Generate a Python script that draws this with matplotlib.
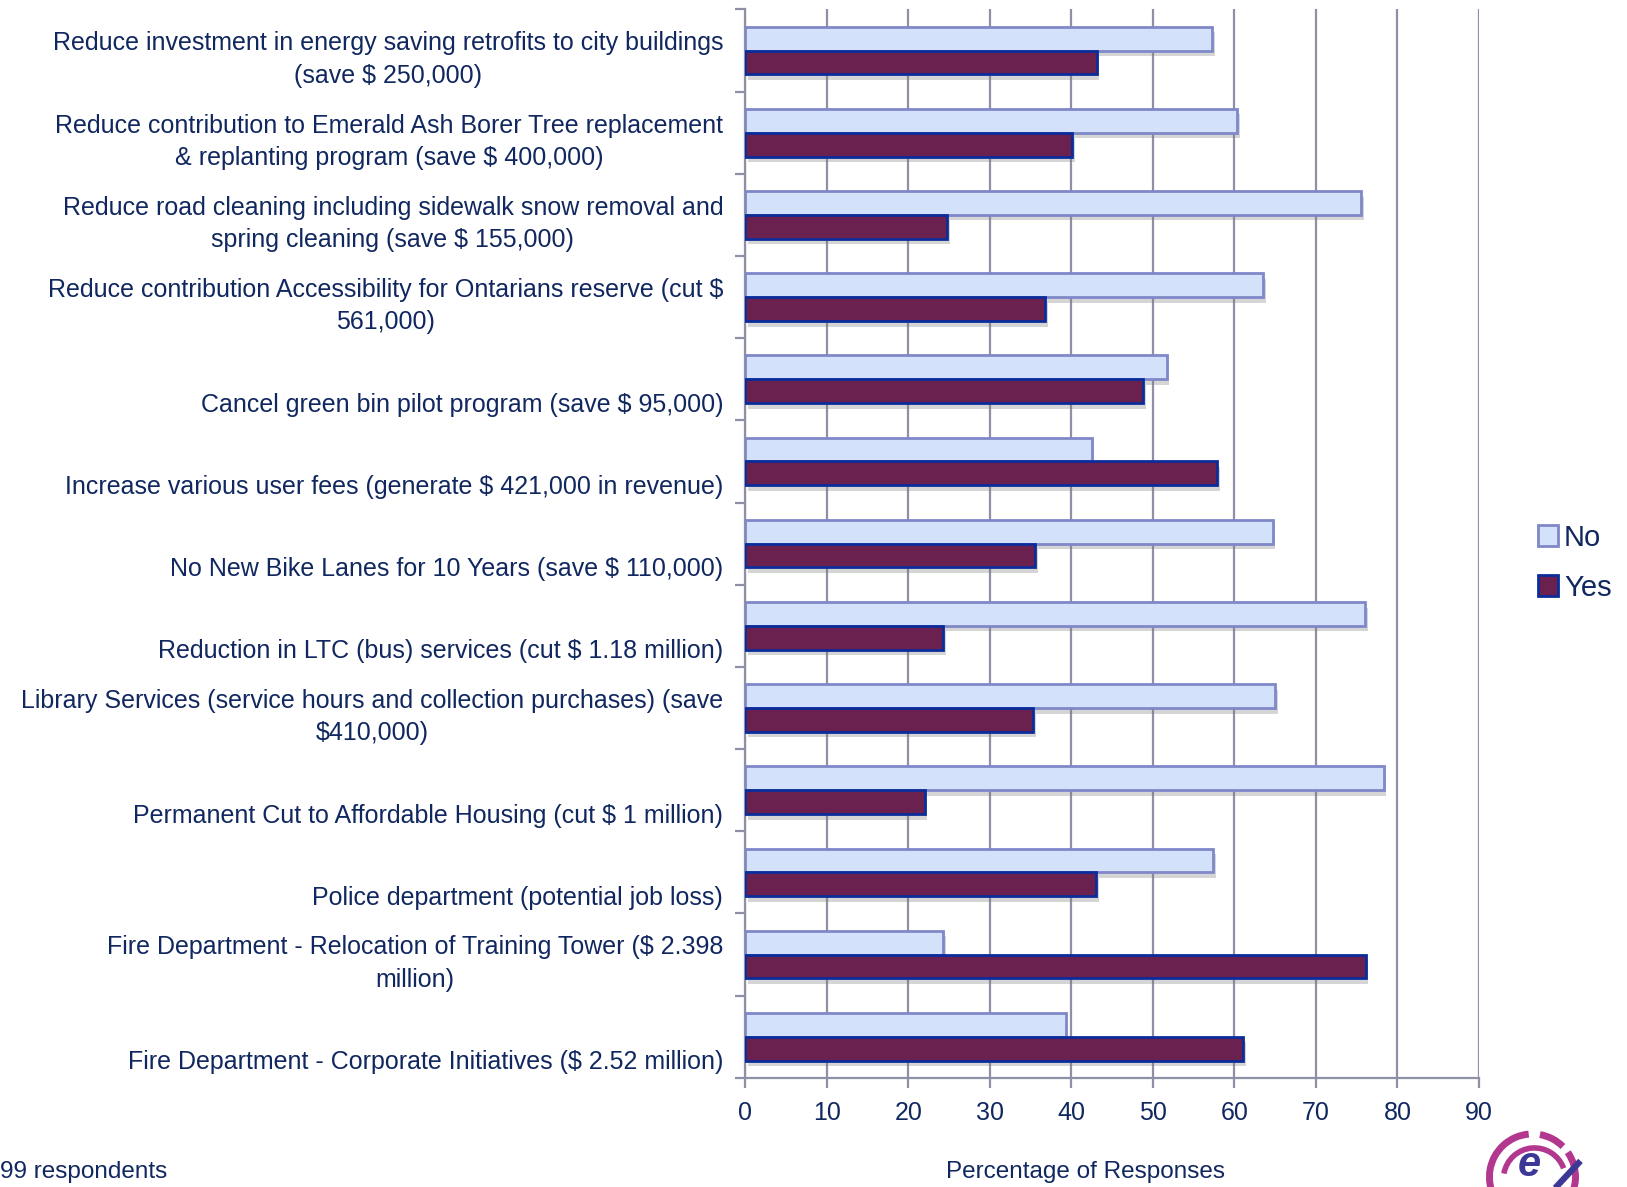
import numpy as np
import matplotlib
matplotlib.use("Agg")
import matplotlib.pyplot as plt
import matplotlib.patheffects as pe
from matplotlib.patches import Arc, Patch

categories = [
    "Reduce investment in energy saving retrofits to city buildings\n(save $ 250,000)",
    "Reduce contribution to Emerald Ash Borer Tree replacement\n& replanting program (save $ 400,000)",
    "Reduce road cleaning including sidewalk snow removal and\nspring cleaning (save $ 155,000)",
    "Reduce contribution Accessibility for Ontarians reserve (cut $\n561,000)",
    "Cancel green bin pilot program (save $ 95,000)",
    "Increase various user fees (generate $ 421,000 in revenue)",
    "No New Bike Lanes for 10 Years (save $ 110,000)",
    "Reduction in LTC (bus) services (cut $ 1.18 million)",
    "Library Services (service hours and collection purchases) (save\n$410,000)",
    "Permanent Cut to Affordable Housing (cut $ 1 million)",
    "Police department (potential job loss)",
    "Fire Department - Relocation of Training Tower ($ 2.398\nmillion)",
    "Fire Department - Corporate Initiatives ($ 2.52 million)",
]
no_vals = [57.3, 60.3, 75.5, 63.5, 51.7, 42.5, 64.7, 76.0, 65.0, 78.3, 57.4, 24.3, 39.3]
yes_vals = [43.1, 40.1, 24.8, 36.8, 48.8, 57.9, 35.6, 24.3, 35.3, 22.0, 43.0, 76.1, 61.1]
xticks = list(range(0, 100, 10))

navy = "#10275f"
grid = "#8e91a6"
plt.rcParams["font.family"] = ["Liberation Sans", "DejaVu Sans"]

fig = plt.figure(figsize=(16.27, 11.87), dpi=100)
ax = fig.add_axes([0.458, 0.092, 0.451, 0.9])

y = np.arange(len(categories))
h = 0.29
shadow = [pe.SimplePatchShadow(offset=(2, -4), shadow_rgbFace="#777777", alpha=0.3), pe.Normal()]
ax.barh(y - h / 2, no_vals, height=h, color="#d4e1fb", edgecolor="#7f88c8",
        linewidth=2, label="No", path_effects=shadow, zorder=3)
ax.barh(y + h / 2, yes_vals, height=h, color="#6b214f", edgecolor="#0b2d9b",
        linewidth=2, label="Yes", path_effects=shadow, zorder=3)

ax.set_xlim(0, 90)
ax.set_ylim(len(categories) - 0.5, -0.5)
ax.set_xticks(xticks)
ax.grid(axis="x", color=grid, linewidth=1.6, zorder=0)
ax.set_axisbelow(True)
for s in ["top", "right"]:
    ax.spines[s].set_visible(False)
for s in ["left", "bottom"]:
    ax.spines[s].set_color(grid)
    ax.spines[s].set_linewidth(1.6)

ax.set_yticks([])
ax.set_yticks(np.arange(-0.5, len(categories)), minor=True)
ax.tick_params(axis="y", which="minor", length=7, width=1.6, color=grid, direction="out")
ax.tick_params(axis="x", length=7, width=1.6, color=grid, direction="out",
               labelsize=18, labelcolor=navy, pad=10)

# category labels, last line sits a bit below the category centre (like Excel)
for i, lab in enumerate(categories):
    nl = lab.count("\n")
    ax.text(-0.03, i + 0.31 - nl * 0.2, lab, transform=ax.get_yaxis_transform(),
            ha="right", va="center", multialignment="center", fontsize=18,
            color=navy, linespacing=1.45)

handles = [Patch(facecolor="#d4e1fb", edgecolor="#7f88c8", linewidth=2, label="No"),
           Patch(facecolor="#6b214f", edgecolor="#0b2d9b", linewidth=2, label="Yes")]
fig.legend(handles=handles, loc="center left", bbox_to_anchor=(0.938, 0.526),
           frameon=False, fontsize=21, labelcolor=navy, handlelength=0.7,
           handleheight=0.7, handletextpad=0.2, labelspacing=0.75, borderaxespad=0)

fig.text(0.0, 0.0125, "99 respondents", fontsize=17.5, color=navy, ha="left", va="center")
fig.text(0.5815, 0.0125, "Percentage of Responses", fontsize=17.5, color=navy,
         ha="left", va="center")

# little logo in the bottom right corner, partly cut off by the edge
lax = fig.add_axes([0.905, -0.042, 0.0738, 0.101])
lax.set_xlim(-60, 60)
lax.set_ylim(-60, 60)
lax.axis("off")
lax.add_patch(Arc((0, 0), 86, 86, theta1=95, theta2=395, color="#b2388f", lw=5))
lax.add_patch(Arc((0, 0), 86, 86, theta1=45, theta2=80, color="#b2388f", lw=5))
lax.add_patch(Arc((2, -2), 62, 62, theta1=20, theta2=170, color="#b2388f", lw=4))
lax.text(-3, 1, "e", fontsize=30, color="#3d3895", fontstyle="italic",
         fontweight="bold", ha="center", va="baseline")
lax.plot([20, 48], [-14, 16], color="#3d3895", lw=4.5, solid_capstyle="butt")

fig.savefig("out.png", dpi=100)
